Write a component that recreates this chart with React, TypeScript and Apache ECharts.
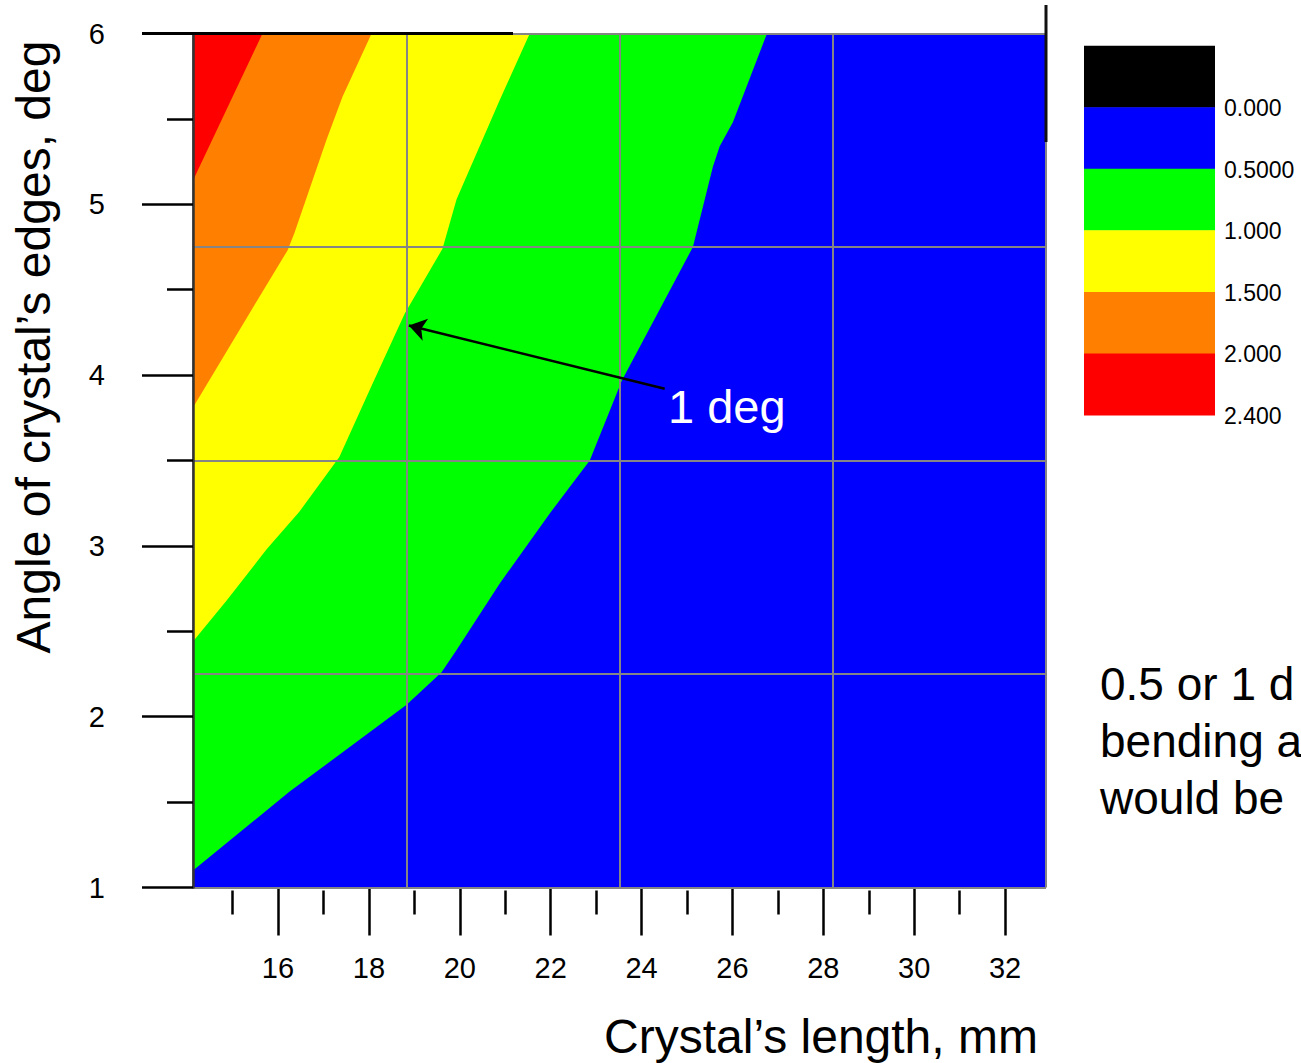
import React, { useEffect, useRef } from "react";
import * as echarts from "echarts";

const FONT = "Liberation Sans, Arial, Helvetica, sans-serif";

// Axis ranges
const X_MIN = 14.13;
const X_MAX = 32.9;
const Y_MIN = 1;
const Y_MAX = 6;

const xMajorTicks = [16, 18, 20, 22, 24, 26, 28, 30, 32];
const xMinorTicks = [15, 17, 19, 21, 23, 25, 27, 29, 31];

// Contour boundaries (x = crystal length mm, y = angle deg)
const level05 = [
  [14.13, 1.1], [16.25, 1.56], [18.83, 2.07], [19.6, 2.26], [19.93, 2.39],
  [20.88, 2.78], [21.98, 3.19], [22.86, 3.5], [23.57, 3.97], [24.51, 4.44],
  [25.13, 4.75], [25.57, 5.22], [25.72, 5.34], [26.01, 5.48], [26.76, 6],
];
const level10 = [
  [14.13, 2.44], [14.87, 2.68], [15.75, 2.98], [16.47, 3.2], [17.35, 3.52],
  [18.08, 3.95], [18.79, 4.36], [19.62, 4.74], [19.93, 5.03], [20.88, 5.61],
  [21.54, 6],
];
const level15 = [
  [14.13, 3.81], [15.55, 4.44], [16.21, 4.73], [16.36, 4.83], [17.07, 5.38],
  [17.42, 5.63], [18.06, 6],
];
const level20 = [[14.13, 5.14], [15.66, 6]];

const legendColors = ["#000000", "#0000FF", "#00FF00", "#FFFF00", "#FF8000", "#FF0000"];
const legendLabels = ["0.000", "0.5000", "1.000", "1.500", "2.000", "2.400"];

const arrowTail = [24.51, 3.92];
const arrowHead = [18.88, 4.29];

const regionColors = ["#0000FF", "#00FF00", "#FFFF00", "#FF8000", "#FF0000"];

export default function App() {
  const ref = useRef<HTMLDivElement>(null);

  useEffect(() => {
    if (!ref.current) return;
    const chart = echarts.init(ref.current, null, { renderer: "svg" });

    const corner = [X_MIN, Y_MAX];
    const regions = [
      [[X_MIN, Y_MIN], [X_MAX, Y_MIN], [X_MAX, Y_MAX], [X_MIN, Y_MAX]],
      [...level05, corner],
      [...level10, corner],
      [...level15, corner],
      [...level20, corner],
    ];

    const legTop = 45.7;
    const legStep = 61.55;
    const legendGraphics: any[] = [];
    legendColors.forEach((c, i) => {
      legendGraphics.push({
        type: "rect",
        shape: { x: 1084, y: legTop + i * legStep, width: 131, height: legStep + 0.5 },
        style: { fill: c },
        z: 10,
      });
    });
    legendLabels.forEach((t, i) => {
      legendGraphics.push({
        type: "text",
        x: 1224,
        y: legTop + (i + 1) * legStep + 1,
        style: {
          text: t,
          fill: "#000",
          font: `23px ${FONT}`,
          textAlign: "left",
          textVerticalAlign: "middle",
        },
        z: 10,
      });
    });

    const option: any = {
      animation: false,
      backgroundColor: "#ffffff",
      grid: {
        left: 193,
        top: 33.5,
        width: 853,
        height: 854,
        outerBoundsMode: "none",
      },
      xAxis: [
        {
          type: "value",
          min: X_MIN,
          max: X_MAX,
          position: "bottom",
          offset: 3,
          axisLine: { show: false },
          splitLine: { show: false },
          axisTick: {
            show: true,
            customValues: xMajorTicks,
            length: 48,
            lineStyle: { color: "#000", width: 2.5 },
          },
          axisLabel: {
            show: true,
            customValues: xMajorTicks,
            fontSize: 29,
            fontFamily: FONT,
            color: "#000",
            margin: 63,
          },
        },
        {
          type: "value",
          min: X_MIN,
          max: X_MAX,
          position: "bottom",
          offset: 3,
          axisLine: { show: false },
          splitLine: { show: false },
          axisTick: {
            show: true,
            customValues: xMinorTicks,
            length: 24,
            lineStyle: { color: "#000", width: 2.5 },
          },
          axisLabel: { show: false },
        },
        {
          type: "value",
          min: 0,
          max: 4,
          interval: 1,
          position: "top",
          z: 5,
          axisLine: { show: false },
          axisTick: { show: false },
          axisLabel: { show: false },
          splitLine: { show: true, lineStyle: { color: "#858585", width: 2 } },
        },
      ],
      yAxis: [
        {
          type: "value",
          min: Y_MIN,
          max: Y_MAX,
          interval: 1,
          position: "left",
          z: 6,
          axisLine: { show: true, lineStyle: { color: "#333", width: 2.5 } },
          splitLine: { show: false },
          axisTick: { show: true, length: 51, lineStyle: { color: "#000", width: 2.5 } },
          minorTick: { show: true, splitNumber: 2, length: 26, lineStyle: { color: "#000", width: 2.5 } },
          axisLabel: {
            fontSize: 29,
            fontFamily: FONT,
            color: "#000",
            margin: 88,
          },
        },
        {
          type: "value",
          min: 0,
          max: 4,
          interval: 1,
          position: "right",
          z: 5,
          axisLine: { show: false },
          axisTick: { show: false },
          axisLabel: { show: false },
          splitLine: { show: true, lineStyle: { color: "#858585", width: 2 } },
        },
      ],
      series: [
        {
          type: "custom",
          xAxisIndex: 0,
          yAxisIndex: 0,
          silent: true,
          z: 2,
          data: regionColors.map((_, i) => [X_MIN, Y_MIN, i]),
          renderItem: (params: any, api: any) => {
            const idx = api.value(2);
            const pts = regions[idx].map((p: number[]) => api.coord(p));
            return {
              type: "polygon",
              shape: { points: pts },
              style: { fill: regionColors[idx], stroke: null },
            };
          },
        },
        {
          type: "lines",
          coordinateSystem: "cartesian2d",
          xAxisIndex: 0,
          yAxisIndex: 0,
          silent: true,
          z: 8,
          symbol: ["none", "arrow"],
          symbolSize: [13, 17],
          lineStyle: { color: "#000", width: 2.5, opacity: 1 },
          data: [{ coords: [arrowTail, arrowHead] }],
        },
      ],
      graphic: [
        // frame fragments
        { type: "line", shape: { x1: 142, y1: 33.5, x2: 513, y2: 33.5 }, style: { stroke: "#000", lineWidth: 3 }, z: 10 },
        { type: "line", shape: { x1: 1046, y1: 5, x2: 1046, y2: 142 }, style: { stroke: "#111", lineWidth: 3 }, z: 10 },
        // axis titles
        {
          type: "text",
          x: 33,
          y: 347,
          rotation: Math.PI / 2,
          style: {
            text: "Angle of crystal’s edges, deg",
            fill: "#000",
            font: `48px ${FONT}`,
            textAlign: "center",
            textVerticalAlign: "middle",
          },
          z: 10,
        },
        {
          type: "text",
          x: 821,
          y: 1036,
          style: {
            text: "Crystal’s length, mm",
            fill: "#000",
            font: `48px ${FONT}`,
            textAlign: "center",
            textVerticalAlign: "middle",
          },
          z: 10,
        },
        {
          type: "text",
          x: 668,
          y: 406,
          style: {
            text: "1 deg",
            fill: "#ffffff",
            font: `47px ${FONT}`,
            textAlign: "left",
            textVerticalAlign: "middle",
          },
          z: 10,
        },
        {
          type: "text",
          x: 1100,
          y: 684,
          style: { text: "0.5 or 1 d", fill: "#000", font: `46px ${FONT}`, textAlign: "left", textVerticalAlign: "middle" },
          z: 10,
        },
        {
          type: "text",
          x: 1100,
          y: 741,
          style: { text: "bending a", fill: "#000", font: `46px ${FONT}`, textAlign: "left", textVerticalAlign: "middle" },
          z: 10,
        },
        {
          type: "text",
          x: 1100,
          y: 798,
          style: { text: "would be", fill: "#000", font: `46px ${FONT}`, textAlign: "left", textVerticalAlign: "middle" },
          z: 10,
        },
        ...legendGraphics,
      ],
    };

    chart.setOption(option);
    return () => {
      chart.dispose();
    };
  }, []);

  return (
    <div
      ref={ref}
      style={{ position: "fixed", left: 0, top: 0, width: 1301, height: 1063, background: "#fff" }}
    />
  );
}
